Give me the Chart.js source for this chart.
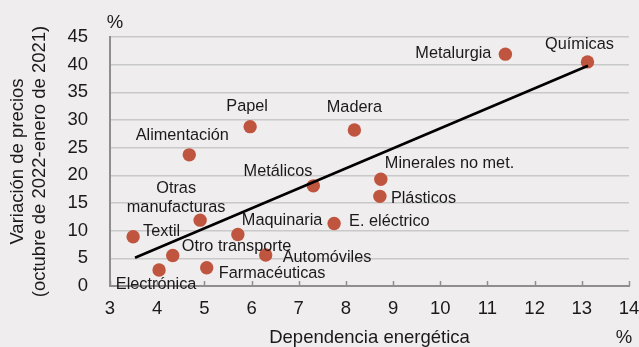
<!DOCTYPE html>
<html lang="es">
<head>
  <meta charset="UTF-8">
  <title>Dependencia energética y precios</title>
  <script src="https://cdn.jsdelivr.net/npm/chart.js@4"></script>
  <style>
    html, body { margin: 0; padding: 0; background: #efedee; }
    canvas { display: block; }
  </style>
</head>
<body>

<canvas id="scatterChart" width="639" height="347"></canvas>

<script>
  // Sectors, energy dependence (%) and price change (%)
  const sectors = ['Químicas', 'Metalurgia', 'Madera', 'Papel', 'Alimentación', 'Minerales no met.',
    'Plásticos', 'Metálicos', 'E. eléctrico', 'Otras manufacturas', 'Maquinaria', 'Textil',
    'Otro transporte', 'Automóviles', 'Farmacéuticas', 'Electrónica'];
  const energyDependence = [13.12, 11.38, 8.18, 5.97, 4.68, 8.74, 8.72, 7.31, 7.75, 4.91, 5.71, 3.49, 4.33, 6.30, 5.05, 4.04];
  const priceChange = [40.5, 41.9, 28.2, 28.8, 23.7, 19.3, 16.2, 18.1, 11.3, 11.9, 9.3, 8.9, 5.5, 5.6, 3.3, 2.9];

  // Fitted trend line end points
  const trendX = [3.53, 13.13];
  const trendY = [5.1, 39.8];

  const FONT = "'Liberation Sans', Arial, sans-serif";
  const TEXT = '#1a1a1a';

  // Where each label sits relative to its dot
  const labelPos = {
    'Químicas': { dx: -8, dy: -17, align: 'center' },
    'Metalurgia': { dx: -14, dy: -1, align: 'right' },
    'Madera': { dx: 0, dy: -22, align: 'center' },
    'Papel': { dx: -3, dy: -20, align: 'center' },
    'Alimentación': { dx: -7, dy: -19, align: 'center' },
    'Minerales no met.': { dx: 4, dy: -16, align: 'left' },
    'Plásticos': { dx: 11, dy: 2, align: 'left' },
    'Metálicos': { dx: -1, dy: -14, align: 'right' },
    'E. eléctrico': { dx: 15, dy: -2, align: 'left' },
    'Otras manufacturas': { dx: -24, dy: -32, align: 'center', lines: ['Otras', 'manufacturas'] },
    'Maquinaria': { dx: 4, dy: -14, align: 'left' },
    'Textil': { dx: 10, dy: -5, align: 'left' },
    'Otro transporte': { dx: 9, dy: -9, align: 'left' },
    'Automóviles': { dx: 17, dy: 2, align: 'left' },
    'Farmacéuticas': { dx: 12, dy: 6, align: 'left' },
    'Electrónica': { dx: -3, dy: 15, align: 'center' }
  };

  const extras = {
    id: 'extras',
    beforeDatasetsDraw(chart) {
      // small inward tick marks on the x axis
      const { ctx, scales: { x } } = chart;
      ctx.save();
      ctx.strokeStyle = '#8e8e8e';
      ctx.lineWidth = 1.5;
      for (let v = x.min; v <= x.max; v++) {
        const px = Math.round(x.getPixelForValue(v)) + 0.5;
        ctx.beginPath();
        ctx.moveTo(px, x.top);
        ctx.lineTo(px, x.top - 5);
        ctx.stroke();
      }
      ctx.restore();
    },
    afterDatasetsDraw(chart) {
      const { ctx, chartArea } = chart;
      const meta = chart.getDatasetMeta(1);
      ctx.save();
      ctx.fillStyle = TEXT;
      ctx.font = '16.3px ' + FONT;
      ctx.textBaseline = 'middle';
      meta.data.forEach((pt, i) => {
        const p = labelPos[sectors[i]];
        ctx.textAlign = p.align;
        const lines = p.lines || [sectors[i]];
        lines.forEach((t, j) => {
          ctx.fillText(t, pt.x + p.dx, pt.y + p.dy + j * 19);
        });
      });
      // unit marks
      ctx.font = '18.5px ' + FONT;
      ctx.textAlign = 'center';
      ctx.fillText('%', chartArea.left + 5, 23);
      ctx.fillText('%', 624, 338);
      ctx.restore();
    }
  };

  const ctx = document.getElementById('scatterChart').getContext('2d');

  new Chart(ctx, {
    type: 'scatter',
    data: {
      datasets: [
        {
          type: 'line',
          label: 'Tendencia',
          data: trendX.map((x, i) => ({ x: x, y: trendY[i] })),
          borderColor: '#000',
          borderWidth: 2.6,
          pointRadius: 0,
          fill: false
        },
        {
          label: 'Sectores',
          data: energyDependence.map((x, i) => ({ x: x, y: priceChange[i] })),
          backgroundColor: '#c0553f',
          borderWidth: 0,
          pointRadius: 6.7
        }
      ]
    },
    options: {
      responsive: false,
      animation: false,
      layout: { padding: { top: 37, right: 10, left: 0, bottom: 0 } },
      plugins: {
        legend: { display: false },
        tooltip: { enabled: false }
      },
      scales: {
        x: {
          type: 'linear',
          min: 3,
          max: 14,
          afterFit(scale) { scale.height = 61; scale.paddingRight = 0; scale.paddingLeft = 0; },
          grid: { display: false, drawTicks: false },
          border: { display: true, color: '#8e8e8e', width: 2 },
          ticks: { stepSize: 1, padding: 12, color: TEXT, font: { family: FONT, size: 18.5 } },
          title: {
            display: true,
            text: 'Dependencia energética',
            color: TEXT,
            font: { family: FONT, size: 18.5, lineHeight: 1 },
            padding: { top: 0, bottom: 0 }
          }
        },
        y: {
          min: 0,
          max: 45,
          afterFit(scale) { scale.width = 110; scale.paddingTop = 0; scale.paddingBottom = 0; },
          grid: { color: '#c9c9c9', lineWidth: 1.5, drawTicks: false },
          border: { display: true, color: '#8e8e8e', width: 2 },
          ticks: { stepSize: 5, padding: 22, color: TEXT, font: { family: FONT, size: 18.5 } },
          title: {
            display: true,
            text: ['Variación de precios', '(octubre de 2022-enero de 2021)'],
            color: TEXT,
            font: { family: FONT, size: 18.5, lineHeight: 1.19 },
            padding: { top: 7, bottom: 0 }
          }
        }
      }
    },
    plugins: [extras]
  });
</script>

</body>
</html>
